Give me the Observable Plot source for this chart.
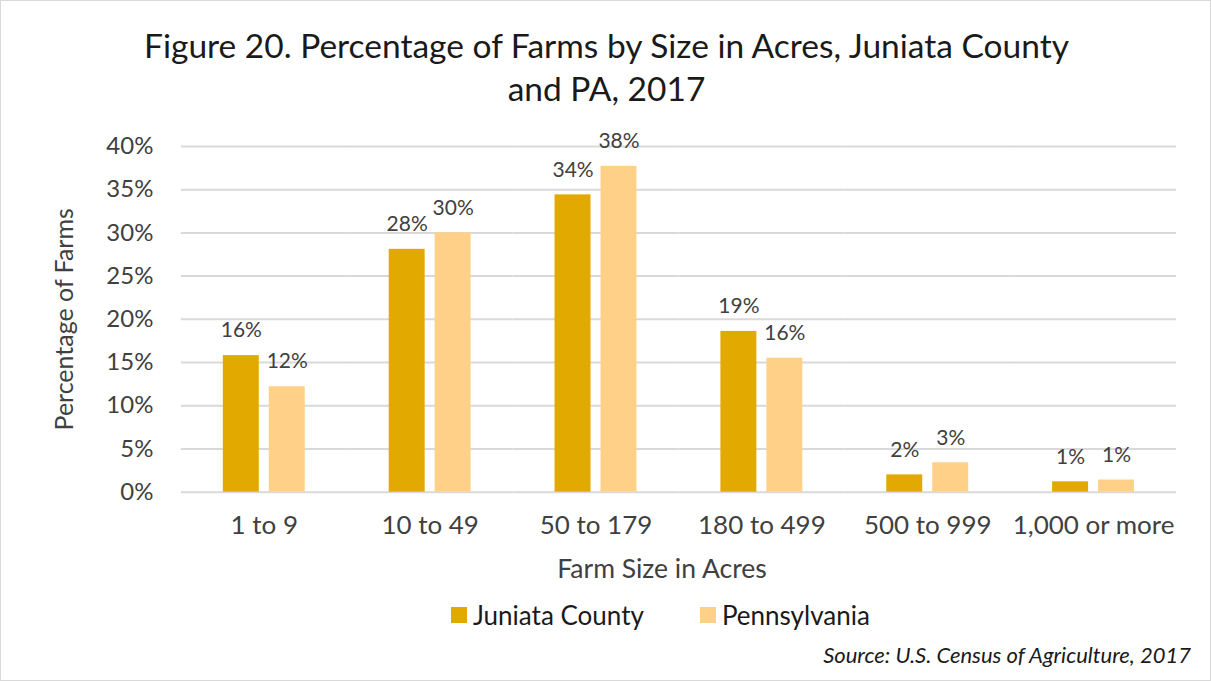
<!DOCTYPE html>
<html>
<head>
<meta charset="utf-8">
<script src="https://cdn.jsdelivr.net/npm/d3@7"></script>
<script src="https://cdn.jsdelivr.net/npm/@observablehq/plot@0.6"></script>
<style>
  html, body { margin: 0; padding: 0; background: #fff; }
  #wrap { position: relative; width: 1211px; height: 681px; box-sizing: border-box; border: 1px solid #d9d9d9; font-family: Lato, sans-serif; overflow: hidden; }
  #title { position: absolute; left: 0; top: 23px; width: 1211px; text-align: center; font-size: 33.5px; line-height: 43px; color: #1a1a1a; }
  #chart { position: absolute; left: -1px; top: 109px; }
  #xlabel { position: absolute; left: 461px; width: 400px; top: 551px; text-align: center; font-size: 26.5px; color: #404040; }
  #legend { position: absolute; top: 598px; left: 450px; display: flex; font-size: 26px; color: #1a1a1a; }
  .item { display: flex; align-items: center; gap: 6px; }
  .item + .item { margin-left: 56px; }
  .sw { width: 16px; height: 16px; display: inline-block; }
  #source { position: absolute; right: 19px; top: 640px; font-size: 22px; font-style: italic; color: #1a1a1a; }
</style>
</head>
<body>
<div id="wrap">
  <div id="title">Figure 20. Percentage of Farms by Size in Acres, Juniata County<br>and PA, 2017</div>
  <div id="chart"></div>
  <div id="xlabel">Farm Size in Acres</div>
  <div id="legend"></div>
  <div id="source">Source: U.S. Census of Agriculture, 2017</div>
</div>
<script>
const categories = ["1 to 9", "10 to 49", "50 to 179", "180 to 499", "500 to 999", "1,000 or more"];
const seriesNames = ["Juniata County", "Pennsylvania"];
const juniataValues = [15.8, 28.1, 34.4, 18.6, 2.0, 1.2];
const pennsylvaniaValues = [12.2, 30.0, 37.7, 15.5, 3.4, 1.4];
const seriesColors = ["#E2A900", "#FFD088"];
const yTicks = [0, 5, 10, 15, 20, 25, 30, 35, 40];

const data = [];
categories.forEach((c, i) => {
  data.push({category: c, series: seriesNames[0], value: juniataValues[i]});
  data.push({category: c, series: seriesNames[1], value: pennsylvaniaValues[i]});
});

const chart = Plot.plot({
  width: 1211,
  height: 480,
  marginTop: 36,
  marginBottom: 98,
  marginLeft: 179,
  marginRight: 33,
  style: {fontFamily: "Lato, sans-serif", fontSize: "24px", color: "#404040", background: "transparent"},
  fx: {domain: categories, padding: 0, axis: "bottom", label: null, tickSize: 0, tickPadding: 23, fontSize: 26},
  x: {domain: seriesNames, axis: null, paddingInner: 0.213, paddingOuter: 0.883},
  y: {domain: [0, 40], ticks: yTicks, tickFormat: d => d + "%", tickSize: 0, tickPadding: 28, label: "Percentage of Farms", labelAnchor: "center", labelOffset: 126, labelArrow: "none"},
  color: {domain: seriesNames, range: seriesColors},
  marks: [
    Plot.gridY(yTicks, {stroke: "#d9d9d9", strokeOpacity: 1, strokeWidth: 2}),
    Plot.barY(data, {fx: "category", x: "series", y: "value", fill: "series"}),
    Plot.text(data, {fx: "category", x: "series", y: "value", text: d => Math.round(d.value) + "%", dy: -25, fontSize: 21, fill: "#404040"})
  ]
});
chart.querySelectorAll("g[aria-label='fx-axis tick label'] text, g[aria-label='fx-axis tick label']").forEach(el => el.setAttribute("font-size", 26));
chart.querySelectorAll("g[aria-label='y-axis label']").forEach(el => el.setAttribute("font-size", 25));
document.getElementById("chart").appendChild(chart);

const legend = document.getElementById("legend");
seriesNames.forEach((s, i) => {
  const it = document.createElement("div");
  it.className = "item";
  it.innerHTML = `<span class="sw" style="background:${seriesColors[i]}"></span><span>${s}</span>`;
  legend.appendChild(it);
});
</script>
</body>
</html>
